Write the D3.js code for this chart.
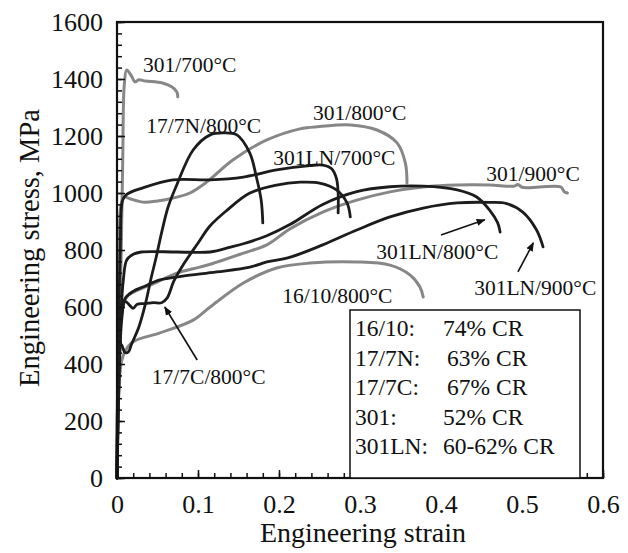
<!DOCTYPE html>
<html>
<head>
<meta charset="utf-8">
<script src="https://cdn.jsdelivr.net/npm/d3@7"></script>
<style>
  html, body { margin: 0; padding: 0; background: #fff; }
  svg { display: block; }
  svg text { font-family: "Liberation Serif", "Times New Roman", Tinos, "DejaVu Serif", "Noto Serif", serif !important; fill: #111; }
</style>
</head>
<body>
<svg id="chart" width="628" height="553"></svg>
<script>
// ---------- DATA ----------
const xTicks = [0, 0.1, 0.2, 0.3, 0.4, 0.5, 0.6];
const yTicks = [0, 200, 400, 600, 800, 1000, 1200, 1400, 1600];

const s301_700 = [[0,0],[0.004,600],[0.007,1100],[0.009,1380],[0.012,1432],[0.018,1410],[0.022,1390],[0.027,1397],[0.035,1393],[0.056,1386],[0.068,1372],[0.074,1354],[0.075,1337]];
const s301_800 = [[0,0],[0.003,700],[0.005,960],[0.009,985],[0.016,980],[0.032,968],[0.05,972],[0.069,982],[0.09,1000],[0.111,1039],[0.143,1116],[0.185,1186],[0.226,1225],[0.25,1233],[0.288,1239],[0.321,1221],[0.346,1175],[0.356,1105],[0.358,1035]];
const s301LN_700 = [[0,0],[0.004,800],[0.007,975],[0.012,995],[0.032,1018],[0.069,1046],[0.115,1046],[0.156,1056],[0.197,1081],[0.238,1096],[0.254,1098],[0.265,1085],[0.271,1050],[0.273,1000],[0.273,930]];
const s17_7N = [[0,0],[0.005,470],[0.01,440],[0.014,442],[0.018,470],[0.027,530],[0.035,610],[0.042,700],[0.048,770],[0.055,860],[0.063,950],[0.074,1030],[0.094,1151],[0.115,1204],[0.131,1211],[0.148,1204],[0.164,1140],[0.172,1057],[0.178,975],[0.180,895]];
const s17_7C = [[0,0],[0.006,560],[0.01,620],[0.016,605],[0.02,595],[0.025,610],[0.035,612],[0.045,615],[0.055,615],[0.062,632],[0.07,690],[0.081,745],[0.099,820],[0.115,885],[0.136,940],[0.164,1000],[0.197,1028],[0.226,1038],[0.25,1035],[0.271,1011],[0.284,965],[0.288,916]];
const s301LN_800 = [[0,0],[0.005,580],[0.008,700],[0.012,765],[0.02,785],[0.03,793],[0.074,793],[0.115,793],[0.14,810],[0.156,822],[0.185,850],[0.214,890],[0.254,960],[0.296,1005],[0.337,1022],[0.378,1024],[0.42,1011],[0.444,986],[0.46,940],[0.47,895],[0.473,863]];
const s301LN_900 = [[0,0],[0.005,560],[0.01,630],[0.02,655],[0.032,670],[0.053,695],[0.081,708],[0.123,723],[0.164,740],[0.185,758],[0.214,775],[0.254,818],[0.296,870],[0.337,916],[0.378,947],[0.42,965],[0.46,967],[0.481,963],[0.501,933],[0.518,870],[0.526,811]];
const s301_900 = [[0,0],[0.005,560],[0.012,635],[0.032,667],[0.041,677],[0.074,719],[0.102,740],[0.115,750],[0.156,789],[0.185,818],[0.214,875],[0.254,933],[0.296,975],[0.337,1004],[0.378,1021],[0.42,1028],[0.46,1028],[0.49,1024],[0.495,1030],[0.5,1020],[0.522,1021],[0.548,1021],[0.552,1005],[0.556,1000]];
const s16_10 = [[0,0],[0.005,400],[0.01,445],[0.02,478],[0.053,509],[0.094,554],[0.115,600],[0.156,684],[0.197,737],[0.238,754],[0.296,758],[0.337,747],[0.362,712],[0.374,670],[0.378,635]];

const seriesNames = ["301/700°C","301/800°C","301/900°C","16/10/800°C","301LN/700°C","17/7N/800°C","17/7C/800°C","301LN/800°C","301LN/900°C"];
const seriesData  = [s301_700, s301_800, s301_900, s16_10, s301LN_700, s17_7N, s17_7C, s301LN_800, s301LN_900];
const seriesTone  = ["gray","gray","gray","gray","black","black","black","black","black"];

// label anchor points in data units
const labelText = ["301/700°C","17/7N/800°C","301/800°C","301LN/700°C","301/900°C","301LN/800°C","301LN/900°C","16/10/800°C","17/7C/800°C"];
const labelPos  = [[0.032,1426],[0.036,1212],[0.242,1256],[0.193,1098],[0.456,1042],[0.32,770],[0.441,643],[0.204,615],[0.043,330]];

// arrows [from, to] in data units
const arrows = [
  [[0.099,414],[0.059,600]],
  [[0.4,853],[0.454,906]],
  [[0.495,723],[0.514,825]]
];

const legendLeft  = ["16/10:","17/7N:","17/7C:","301:","301LN:"];
const legendRight = ["74% CR","63% CR","67% CR","52% CR","60-62% CR"];

// ---------- CHART ----------
const FONT = '"Liberation Serif", "Times New Roman", Tinos, "DejaVu Serif", "Noto Serif", serif';
const svg = d3.select("#chart");
const L = 117, R = 603, T = 22, B = 478;
const x = d3.scaleLinear().domain([0, 0.6]).range([L, R]);
const y = d3.scaleLinear().domain([0, 1600]).range([B, T]);

const colors = { gray: "#878787", black: "#1c1c1c" };

// curves
const line = d3.line().x(d => x(d[0])).y(d => y(d[1])).curve(d3.curveCatmullRom.alpha(0.5));
svg.append("g").selectAll("path").data(d3.range(seriesData.length)).join("path")
  .attr("d", i => line(seriesData[i]))
  .attr("fill", "none")
  .attr("stroke", i => colors[seriesTone[i]])
  .attr("stroke-width", i => seriesTone[i] === "gray" ? 3 : 2.8)
  .attr("stroke-linejoin", "round")
  .attr("stroke-linecap", "round");

// frame
svg.append("rect").attr("x", L).attr("y", T).attr("width", R - L).attr("height", B - T)
  .attr("fill", "none").attr("stroke", "#111").attr("stroke-width", 2.2);

// axes
const fmtX = d => d === 0 ? "0" : d3.format(".1f")(d);
const xMinor = d3.range(0, 0.6001, 0.02);
const yMinor = d3.range(0, 1600.1, 40);

const gxm = svg.append("g").attr("transform", `translate(0,${B})`)
  .call(d3.axisBottom(x).tickValues(xMinor).tickSize(-5).tickFormat(""));
const gx = svg.append("g").attr("transform", `translate(0,${B})`)
  .call(d3.axisBottom(x).tickValues(xTicks).tickSize(-8).tickPadding(17).tickFormat(fmtX));
const gym = svg.append("g").attr("transform", `translate(${L},0)`)
  .call(d3.axisLeft(y).tickValues(yMinor).tickSize(-5).tickFormat(""));
const gy = svg.append("g").attr("transform", `translate(${L},0)`)
  .call(d3.axisLeft(y).tickValues(yTicks).tickSize(-8).tickPadding(14).tickFormat(d3.format("d")));

[gxm, gx, gym, gy].forEach(g => {
  g.attr("font-family", FONT);
  g.select(".domain").remove();
  g.selectAll("line").attr("stroke", "#111").attr("stroke-width", 1.5);
  g.selectAll("text").attr("font-family", FONT).attr("font-size", 26).attr("fill", "#111");
});

// axis titles
svg.append("text").attr("x", 363).attr("y", 542).attr("text-anchor", "middle")
  .attr("font-family", FONT).attr("font-size", 28).text("Engineering strain");
svg.append("text").attr("transform", "translate(39,248) rotate(-90)").attr("text-anchor", "middle")
  .attr("font-family", FONT).attr("font-size", 28.5).text("Engineering stress, MPa");

// curve labels
svg.append("g").selectAll("text").data(labelText).join("text")
  .attr("x", (d, i) => x(labelPos[i][0]))
  .attr("y", (d, i) => y(labelPos[i][1]))
  .attr("font-family", FONT)
  .attr("font-size", 21.5)
  .attr("fill", "#222")
  .text(d => d);

// arrows
svg.append("defs").append("marker")
  .attr("id", "ah").attr("viewBox", "0 0 10 10").attr("refX", 9).attr("refY", 5)
  .attr("markerWidth", 9).attr("markerHeight", 9).attr("markerUnits", "userSpaceOnUse")
  .attr("orient", "auto")
  .append("path").attr("d", "M0,1 L10,5 L0,9 Z").attr("fill", "#111");
svg.append("g").selectAll("line").data(arrows).join("line")
  .attr("x1", d => x(d[0][0])).attr("y1", d => y(d[0][1]))
  .attr("x2", d => x(d[1][0])).attr("y2", d => y(d[1][1]))
  .attr("stroke", "#111").attr("stroke-width", 1.6)
  .attr("marker-end", "url(#ah)");

// legend box
const lg = svg.append("g");
lg.append("rect").attr("x", 350).attr("y", 310).attr("width", 230).attr("height", B - 310)
  .attr("fill", "#fff").attr("stroke", "#111").attr("stroke-width", 1.5);
const rightX = [443, 447, 447, 443, 443];
lg.selectAll("text.l").data(legendLeft).join("text").attr("class", "l")
  .attr("x", 355).attr("y", (d, i) => 336 + i * 29.5).attr("font-family", FONT).attr("font-size", 23.5).text(d => d);
lg.selectAll("text.r").data(legendRight).join("text").attr("class", "r")
  .attr("x", (d, i) => rightX[i]).attr("y", (d, i) => 336 + i * 29.5).attr("font-family", FONT).attr("font-size", 23.5).text(d => d);
</script>
</body>
</html>
